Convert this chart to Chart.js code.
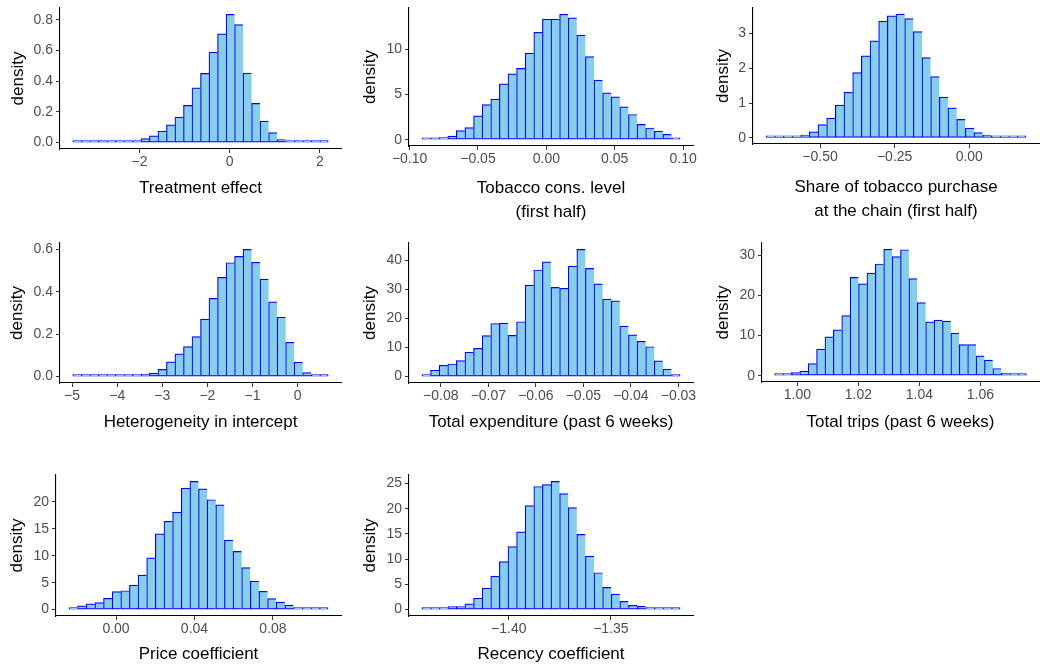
<!DOCTYPE html>
<html>
<head>
<meta charset="utf-8">
<script src="https://cdn.jsdelivr.net/npm/chart.js@4/dist/chart.umd.min.js"></script>
<style>
  html, body { margin: 0; padding: 0; background: #fff; overflow: hidden; }
  #wrap { position: relative; width: 1040px; height: 668px; }
  #wrap canvas { position: absolute; }
</style>
</head>
<body>
<div id="wrap"></div>
<script>
// posterior draws, 30 bins each: [first edge, last edge] and density per bin
const treatRange = [-3.481, 2.185];
const treatDensity = [0.001, 0.001, 0.002, 0.003, 0.004, 0.006, 0.008, 0.013, 0.026, 0.044,
  0.074, 0.116, 0.166, 0.242, 0.357, 0.451, 0.589, 0.708, 0.835, 0.769,
  0.453, 0.255, 0.14, 0.065, 0.02, 0.009, 0.006, 0.003, 0.002, 0.001];

const tobaccoRange = [-0.0910, 0.0978];
const tobaccoDensity = [0.05, 0.1, 0.25, 0.4, 1.0, 1.35, 2.65, 3.9, 4.5, 6.2,
  7.3, 7.9, 9.6, 11.9, 13.35, 13.35, 13.9, 13.5, 11.6, 9.2,
  6.6, 5.2, 4.75, 3.65, 2.8, 1.7, 1.3, 0.95, 0.6, 0.12];

const shareRange = [-0.681, 0.190];
const shareDensity = [0.01, 0.015, 0.03, 0.05, 0.08, 0.17, 0.38, 0.57, 0.94, 1.31,
  1.88, 2.36, 2.79, 3.36, 3.51, 3.56, 3.43, 3.06, 2.31, 1.76,
  1.17, 0.86, 0.53, 0.28, 0.15, 0.08, 0.04, 0.02, 0.01, 0.01];

const hetRange = [-4.985, 0.68];
const hetDensity = [0.001, 0.001, 0.002, 0.003, 0.004, 0.006, 0.008, 0.010, 0.012, 0.017,
  0.034, 0.07, 0.107, 0.142, 0.189, 0.271, 0.369, 0.468, 0.537, 0.567,
  0.600, 0.539, 0.46, 0.353, 0.28, 0.162, 0.068, 0.019, 0.006, 0.001];

const expRange = [-0.08398, -0.02965];
const expDensity = [0.7, 2.2, 3.9, 4.35, 5.5, 8.4, 9.75, 14.1, 18.3, 18.45,
  14.2, 18.9, 31.5, 36.7, 39.5, 30.7, 30.4, 38.05, 43.8, 37.25,
  31.9, 26.7, 26.1, 17.4, 14.4, 12.15, 10.3, 5.4, 2.6, 0.35];

const tripsRange = [0.99254, 1.0751];
const tripsDensity = [0.15, 0.5, 0.75, 1.15, 3.0, 6.6, 9.7, 11.4, 15.0, 24.5,
  22.9, 25.55, 27.85, 31.5, 29.7, 31.4, 24.2, 18.2, 13.4, 13.85,
  13.6, 10.6, 7.75, 7.75, 4.95, 3.9, 1.8, 0.65, 0.25, 0.08];

const priceRange = [-0.024, 0.1081];
const priceDensity = [0.25, 0.7, 1.05, 1.3, 2.1, 3.35, 3.5, 4.55, 6.4, 9.6,
  14.05, 16.4, 18.1, 22.55, 23.8, 22.4, 20.4, 19.45, 12.9, 10.8,
  7.8, 5.3, 3.4, 2.05, 1.4, 0.85, 0.25, 0.1, 0.15, 0.05];

const recencyRange = [-1.44251, -1.31612];
const recencyDensity = [0.05, 0.08, 0.12, 0.6, 0.6, 1.15, 2.25, 4.25, 6.65, 9.5,
  12.5, 15.4, 20.6, 24.4, 24.75, 25.4, 23.0, 20.2, 14.9, 10.6,
  7.3, 4.4, 3.05, 1.65, 0.85, 0.65, 0.3, 0.12, 0.08, 0.05];

// tick values and their labels
const treatXTicks = [-2, 0, 2];
const treatXLabels = ["\u22122", "0", "2"];
const treatYTicks = [0, 0.2, 0.4, 0.6, 0.8];
const treatYLabels = ["0.0", "0.2", "0.4", "0.6", "0.8"];

const tobaccoXTicks = [-0.10, -0.05, 0, 0.05, 0.10];
const tobaccoXLabels = ["\u22120.10", "\u22120.05", "0.00", "0.05", "0.10"];
const tobaccoYTicks = [0, 5, 10];
const tobaccoYLabels = ["0", "5", "10"];

const shareXTicks = [-0.50, -0.25, 0];
const shareXLabels = ["\u22120.50", "\u22120.25", "0.00"];
const shareYTicks = [0, 1, 2, 3];
const shareYLabels = ["0", "1", "2", "3"];

const hetXTicks = [-5, -4, -3, -2, -1, 0];
const hetXLabels = ["\u22125", "\u22124", "\u22123", "\u22122", "\u22121", "0"];
const hetYTicks = [0, 0.2, 0.4, 0.6];
const hetYLabels = ["0.0", "0.2", "0.4", "0.6"];

const expXTicks = [-0.08, -0.07, -0.06, -0.05, -0.04, -0.03];
const expXLabels = ["\u22120.08", "\u22120.07", "\u22120.06", "\u22120.05", "\u22120.04", "\u22120.03"];
const expYTicks = [0, 10, 20, 30, 40];
const expYLabels = ["0", "10", "20", "30", "40"];

const tripsXTicks = [1.00, 1.02, 1.04, 1.06];
const tripsXLabels = ["1.00", "1.02", "1.04", "1.06"];
const tripsYTicks = [0, 10, 20, 30];
const tripsYLabels = ["0", "10", "20", "30"];

const priceXTicks = [0, 0.04, 0.08];
const priceXLabels = ["0.00", "0.04", "0.08"];
const priceYTicks = [0, 5, 10, 15, 20];
const priceYLabels = ["0", "5", "10", "15", "20"];

const recencyXTicks = [-1.40, -1.35];
const recencyXLabels = ["\u22121.40", "\u22121.35"];
const recencyYTicks = [0, 5, 10, 15, 20, 25];
const recencyYLabels = ["0", "5", "10", "15", "20", "25"];

// layout: plot area [left, top, right, bottom], y title centre x, x title last line centre y
const panels = [
  { range: treatRange, dens: treatDensity, xt: treatXTicks, xl: treatXLabels, yt: treatYTicks, yl: treatYLabels,
    title: "Treatment effect", area: [60, 8, 341, 149], yTitleX: 18, titleY: 188 },
  { range: tobaccoRange, dens: tobaccoDensity, xt: tobaccoXTicks, xl: tobaccoXLabels, yt: tobaccoYTicks, yl: tobaccoYLabels,
    title: ["Tobacco cons. level", "(first half)"], area: [409, 8, 693, 146], yTitleX: 370, titleY: 212 },
  { range: shareRange, dens: shareDensity, xt: shareXTicks, xl: shareXLabels, yt: shareYTicks, yl: shareYLabels,
    title: ["Share of tobacco purchase", "at the chain (first half)"], area: [753, 8, 1039, 144], yTitleX: 723, titleY: 211 },
  { range: hetRange, dens: hetDensity, xt: hetXTicks, xl: hetXLabels, yt: hetYTicks, yl: hetYLabels,
    title: "Heterogeneity in intercept", area: [60, 243, 341, 383], yTitleX: 17, titleY: 422 },
  { range: expRange, dens: expDensity, xt: expXTicks, xl: expXLabels, yt: expYTicks, yl: expYLabels,
    title: "Total expenditure (past 6 weeks)", area: [409, 243, 693, 383], yTitleX: 370, titleY: 422 },
  { range: tripsRange, dens: tripsDensity, xt: tripsXTicks, xl: tripsXLabels, yt: tripsYTicks, yl: tripsYLabels,
    title: "Total trips (past 6 weeks)", area: [762, 243, 1039, 382], yTitleX: 723, titleY: 422 },
  { range: priceRange, dens: priceDensity, xt: priceXTicks, xl: priceXLabels, yt: priceYTicks, yl: priceYLabels,
    title: "Price coefficient", area: [56, 475, 341, 616], yTitleX: 17, titleY: 654 },
  { range: recencyRange, dens: recencyDensity, xt: recencyXTicks, xl: recencyXLabels, yt: recencyYTicks, yl: recencyYLabels,
    title: "Recency coefficient", area: [409, 475, 693, 616], yTitleX: 370, titleY: 654 },
];

const FONT = "'Liberation Sans', Arial, sans-serif";
const TITLE_SIZE = 17;
const Y_LH = 1.2;
const X_LH = 1.41;

function drawPanel(p) {
  const [lo, hi] = p.range;
  const n = p.dens.length;
  const w = (hi - lo) / n;
  const pts = p.dens.map((d, i) => ({ x: lo + (i + 0.5) * w, y: d }));
  const xPad = (hi - lo) * 0.05;
  const yMax = Math.max(...p.dens);

  const padTop = 12, padRight = 28;
  const left = Math.round(p.yTitleX - (TITLE_SIZE * Y_LH) / 2);
  const top = p.area[1] - padTop;
  const bottom = Math.round(p.titleY + (TITLE_SIZE * X_LH) / 2);
  const yW = p.area[0] - left;
  const xH = bottom - p.area[3];

  const canvas = document.createElement("canvas");
  canvas.width = p.area[2] - left + padRight;
  canvas.height = bottom - top;
  canvas.style.left = left + "px";
  canvas.style.top = top + "px";
  document.getElementById("wrap").appendChild(canvas);

  const tickFont = { family: FONT, size: 14 };

  new Chart(canvas.getContext("2d"), {
    type: "bar",
    data: {
      datasets: [{
        data: pts,
        backgroundColor: "#87CEEB",
        borderColor: "#0000FF",
        borderWidth: (c) => ({ top: 1.2, left: 1.2, bottom: 1.2, right: c.dataIndex === n - 1 ? 1.2 : 0 }),
        borderSkipped: false,
        minBarLength: 2,
        barPercentage: 1,
        categoryPercentage: 1,
      }],
    },
    options: {
      responsive: false,
      animation: false,
      events: [],
      layout: { padding: { top: padTop, right: padRight, left: 0, bottom: 0 } },
      plugins: { legend: { display: false }, tooltip: { enabled: false } },
      scales: {
        x: {
          type: "linear",
          offset: false,
          min: lo - xPad,
          max: hi + xPad,
          afterBuildTicks: (s) => { s.ticks = p.xt.map((v) => ({ value: v })); },
          afterFit: (s) => { s.height = xH; },
          grid: { display: true, offset: false, drawOnChartArea: false, drawTicks: true, tickLength: 4, color: "#333333", lineWidth: 1 },
          border: { display: true, color: "#000000", width: 1.1 },
          ticks: {
            autoSkip: false, maxRotation: 0, padding: 1,
            color: "#4D4D4D", font: tickFont,
            callback: (v, i) => p.xl[i],
          },
          title: {
            display: true, text: p.title, color: "#000000",
            font: { family: FONT, size: TITLE_SIZE, lineHeight: X_LH },
            padding: 0,
          },
        },
        y: {
          min: -0.05 * yMax,
          max: 1.05 * yMax,
          afterBuildTicks: (s) => { s.ticks = p.yt.map((v) => ({ value: v })); },
          afterFit: (s) => { s.width = yW; },
          grid: { display: true, drawOnChartArea: false, drawTicks: true, tickLength: 4, color: "#333333", lineWidth: 1 },
          border: { display: true, color: "#000000", width: 1.1 },
          ticks: {
            autoSkip: false, padding: 3,
            color: "#4D4D4D", font: tickFont,
            callback: (v, i) => p.yl[i],
          },
          title: {
            display: true, text: "density", color: "#000000",
            font: { family: FONT, size: TITLE_SIZE, lineHeight: Y_LH },
            padding: 0,
          },
        },
      },
    },
  });
}

panels.forEach(drawPanel);
</script>
</body>
</html>
